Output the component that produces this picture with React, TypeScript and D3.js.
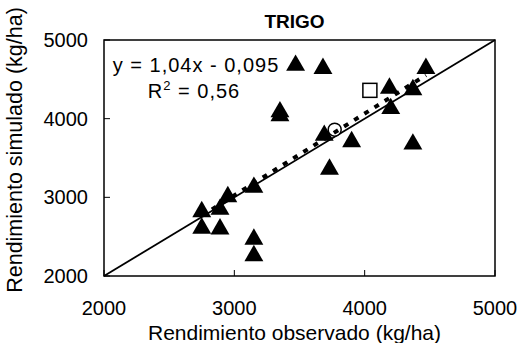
import React from 'react';
import * as d3 from 'd3';

// Observed vs simulated wheat yield (kg/ha)
const triObs = [2750, 2750, 2890, 2890, 2950, 3150, 3150, 3150, 3350, 3350, 3470, 3680, 3690, 3730, 3900, 4190, 4200, 4370, 4470, 4370];
const triSim = [2830, 2620, 2860, 2610, 3020, 3140, 2480, 2270, 4100, 4050, 4690, 4650, 3800, 3370, 3720, 4400, 4140, 4380, 4650, 3690];
const squareObs = [4040];
const squareSim = [4360];
const circleObs = [3770];
const circleSim = [3860];
const ticks = [2000, 3000, 4000, 5000];
const slope = 1.04;
const intercept = -95;

const W = 520;
const H = 343;
const font = '"Liberation Sans", Arial, sans-serif';

export default function App() {
    const margin = { top: 40, right: 25, bottom: 67, left: 104 };
    const x = d3.scaleLinear().domain([2000, 5000]).range([margin.left, W - margin.right]);
    const y = d3.scaleLinear().domain([2000, 5000]).range([H - margin.bottom, margin.top]);

    const line = d3.line<[number, number]>()
        .x(d => x(d[0]))
        .y(d => y(d[1]));

    // 1:1 line
    const oneToOne = line([[2000, 2000], [5000, 5000]]) || '';

    // regression trendline over the observed range
    const allObs = [...triObs, ...squareObs, ...circleObs];
    const [xMin, xMax] = d3.extent(allObs) as [number, number];
    const trend = line([[xMin, slope * xMin + intercept], [xMax, slope * xMax + intercept]]) || '';

    const tri = d3.symbol().type(d3.symbolTriangle).size(155)() || '';

    const x0 = x.range()[0], x1 = x.range()[1];
    const y0 = y.range()[0], y1 = y.range()[1];

    return (
        <svg width={W} height={H} style={{ position: 'absolute', left: 0, top: 0, background: '#fff' }}
            fontFamily={font}>
            <rect x={0} y={0} width={W} height={H} fill="#fff" />

            {/* title */}
            <text x={(x0 + x1) / 2 - 5} y={28} textAnchor="middle" fontSize={19} fontWeight="bold">TRIGO</text>

            {/* frame */}
            <rect x={x0} y={y1} width={x1 - x0} height={y0 - y1} fill="none" stroke="#000" strokeWidth={1.5} />

            {/* ticks */}
            {ticks.map(t => (
                <g key={'x' + t}>
                    <line x1={x(t)} x2={x(t)} y1={y0} y2={y0 - 6} stroke="#000" strokeWidth={1} />
                    <text x={x(t)} y={315} textAnchor="middle" fontSize={20}>{t}</text>
                </g>
            ))}
            {ticks.map(t => (
                <g key={'y' + t}>
                    <line x1={x0} x2={x0 + 6} y1={y(t)} y2={y(t)} stroke="#000" strokeWidth={1} />
                    <text x={88} y={y(t)} dy="0.35em" textAnchor="end" fontSize={20}>{t}</text>
                </g>
            ))}

            {/* axis titles */}
            <text x={(x0 + x1) / 2 - 5} y={340} textAnchor="middle" fontSize={21}>Rendimiento observado (kg/ha)</text>
            <text transform={`translate(22,${(y0 + y1) / 2 - 8}) rotate(-90)`} textAnchor="middle" fontSize={21.5}>
                Rendimiento simulado (kg/ha)
            </text>

            {/* 1:1 line */}
            <path d={oneToOne} fill="none" stroke="#000" strokeWidth={1.8} />

            {/* markers */}
            {triObs.map((o, i) => (
                <path key={'t' + i} d={tri} transform={`translate(${x(o)},${y(triSim[i]) + 1})`} fill="#000" />
            ))}
            {squareObs.map((o, i) => (
                <rect key={'s' + i} x={x(o) - 7} y={y(squareSim[i]) - 7} width={14} height={14}
                    fill="#fff" stroke="#000" strokeWidth={1.5} />
            ))}
            {circleObs.map((o, i) => (
                <circle key={'c' + i} cx={x(o)} cy={y(circleSim[i])} r={6.5} fill="#fff" stroke="#000" strokeWidth={1.5} />
            ))}

            {/* trendline */}
            <path d={trend} fill="none" stroke="#000" strokeWidth={4} strokeDasharray="5,7" />

            {/* equation */}
            <text x={196} y={72} textAnchor="middle" fontSize={20} letterSpacing={1}>y = 1,04x - 0,095</text>
            <text x={194} y={98} textAnchor="middle" fontSize={20} letterSpacing={1}>
                R<tspan dy={-8} fontSize={13}>2</tspan><tspan dy={8}> = 0,56</tspan>
            </text>
        </svg>
    );
}
